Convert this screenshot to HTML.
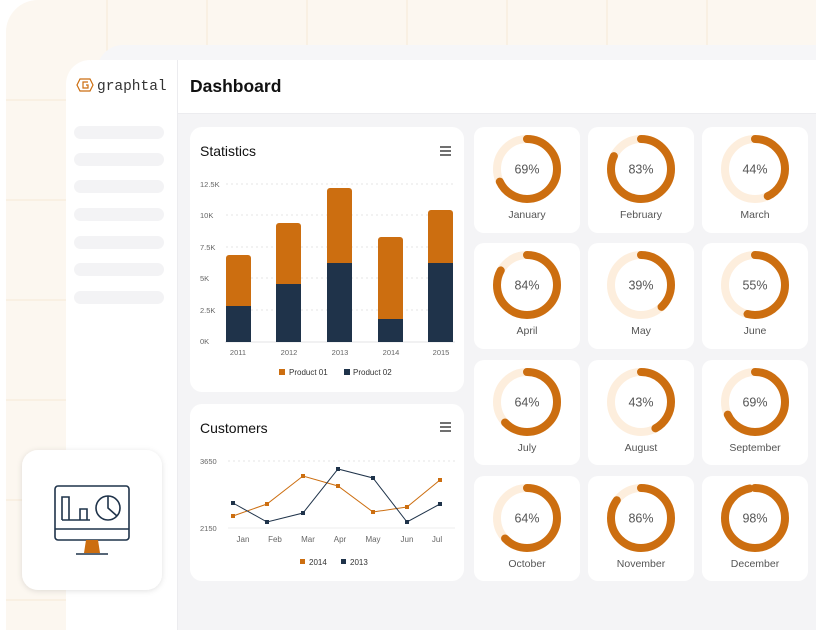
<!DOCTYPE html>
<html><head><meta charset="utf-8"><style>
html,body{margin:0;padding:0;width:816px;height:630px;overflow:hidden;background:#fff;}
svg{display:block;}
svg text{font-family:"Liberation Sans",sans-serif;}
</style></head><body>
<svg width="816" height="630" viewBox="0 0 816 630" xmlns="http://www.w3.org/2000/svg">
<defs>
<filter id="sh" x="-20%" y="-20%" width="140%" height="140%"><feDropShadow dx="0" dy="1" stdDeviation="3" flood-color="#000" flood-opacity="0.12"/></filter>
<clipPath id="cp"><rect x="0" y="0" width="816" height="630"/></clipPath>
</defs>
<g clip-path="url(#cp)">
<rect x="6" y="0" width="840" height="660" rx="32" fill="#fcf7f0"/>
<g stroke="#f6e9d6" stroke-width="1">
<line x1="107" y1="0" x2="107" y2="630"/><line x1="207" y1="0" x2="207" y2="630"/><line x1="307" y1="0" x2="307" y2="630"/><line x1="407" y1="0" x2="407" y2="630"/><line x1="507" y1="0" x2="507" y2="630"/><line x1="607" y1="0" x2="607" y2="630"/><line x1="707" y1="0" x2="707" y2="630"/>
<line x1="6" y1="100" x2="816" y2="100"/><line x1="6" y1="200" x2="816" y2="200"/><line x1="6" y1="300" x2="816" y2="300"/><line x1="6" y1="400" x2="816" y2="400"/><line x1="6" y1="500" x2="816" y2="500"/><line x1="6" y1="600" x2="816" y2="600"/>
</g>
<rect x="97" y="45" width="760" height="620" rx="26" fill="#f6f6f8"/>
<rect x="66" y="60" width="800" height="620" rx="24" fill="#fff"/>
<rect x="178" y="114" width="640" height="520" fill="#f4f4f6"/>
<line x1="177.5" y1="60" x2="177.5" y2="630" stroke="#ececef"/>
<line x1="178" y1="113.5" x2="816" y2="113.5" stroke="#ececef"/>
<g stroke="#cc6e10" fill="none" stroke-width="1.2">
<polygon points="77,85 80,79 90,79 93,85 90,91 80,91"/>
<path d="M88,82 H83 V88 H88 V85 H86"/>
</g>
<text x="97" y="90" font-size="14.5" fill="#333" style="font-family:'Liberation Mono',monospace">graphtal</text>
<text x="190" y="92" font-size="17.5" font-weight="bold" fill="#111">Dashboard</text>
<g fill="#f3f3f5">
<rect x="74" y="126" width="90" height="13" rx="6.5"/><rect x="74" y="153" width="90" height="13" rx="6.5"/><rect x="74" y="180" width="90" height="13" rx="6.5"/><rect x="74" y="208" width="90" height="13" rx="6.5"/><rect x="74" y="236" width="90" height="13" rx="6.5"/><rect x="74" y="263" width="90" height="13" rx="6.5"/><rect x="74" y="291" width="90" height="13" rx="6.5"/>
</g>
<rect x="190" y="127" width="274" height="265" rx="12" fill="#fff"/>
<text x="200" y="156" font-size="14" fill="#111">Statistics</text>
<g stroke="#333" stroke-width="1.4"><line x1="440" y1="147" x2="451" y2="147"/><line x1="440" y1="151" x2="451" y2="151"/><line x1="440" y1="155" x2="451" y2="155"/></g>
<g stroke="#e6e6e6" stroke-dasharray="2,3"><line x1="226" y1="184" x2="455" y2="184"/><line x1="226" y1="215" x2="455" y2="215"/><line x1="226" y1="247" x2="455" y2="247"/><line x1="226" y1="278" x2="455" y2="278"/><line x1="226" y1="310" x2="455" y2="310"/></g>
<line x1="225" y1="342" x2="455" y2="342" stroke="#e3e3e6"/>
<g font-size="7.5" fill="#666">
<text x="200" y="187">12.5K</text><text x="200" y="218">10K</text><text x="200" y="250">7.5K</text><text x="200" y="281">5K</text><text x="200" y="313">2.5K</text><text x="200" y="344">0K</text>
</g>
<g fill="#cc6e10">
<rect x="226" y="255" width="25" height="60" rx="3"/><rect x="276" y="223" width="25" height="70" rx="3"/><rect x="327" y="188" width="25" height="85" rx="3"/><rect x="378" y="237" width="25" height="90" rx="3"/><rect x="428" y="210" width="25" height="60" rx="3"/>
</g>
<g fill="#1f334a">
<rect x="226" y="306" width="25" height="36"/><rect x="276" y="284" width="25" height="58"/><rect x="327" y="263" width="25" height="79"/><rect x="378" y="319" width="25" height="23"/><rect x="428" y="263" width="25" height="79"/>
</g>
<g font-size="7.5" fill="#666" text-anchor="middle">
<text x="238" y="355">2011</text><text x="289" y="355">2012</text><text x="340" y="355">2013</text><text x="391" y="355">2014</text><text x="441" y="355">2015</text>
</g>
<rect x="279" y="369" width="6" height="6" fill="#cc6e10"/><text x="289" y="375" font-size="8" fill="#333">Product 01</text>
<rect x="344" y="369" width="6" height="6" fill="#1f334a"/><text x="353" y="375" font-size="8" fill="#333">Product 02</text>
<rect x="190" y="404" width="274" height="177" rx="12" fill="#fff"/>
<text x="200" y="433" font-size="14" fill="#111">Customers</text>
<g stroke="#333" stroke-width="1.4"><line x1="440" y1="423" x2="451" y2="423"/><line x1="440" y1="427" x2="451" y2="427"/><line x1="440" y1="431" x2="451" y2="431"/></g>
<line x1="228" y1="461" x2="455" y2="461" stroke="#e6e6e6" stroke-dasharray="2,3"/>
<line x1="228" y1="528" x2="455" y2="528" stroke="#ececee"/>
<g font-size="7.5" fill="#666"><text x="200" y="464">3650</text><text x="200" y="531">2150</text></g>
<g font-size="8" fill="#666" text-anchor="middle">
<text x="243" y="542">Jan</text><text x="275" y="542">Feb</text><text x="308" y="542">Mar</text><text x="340" y="542">Apr</text><text x="373" y="542">May</text><text x="407" y="542">Jun</text><text x="437" y="542">Jul</text>
</g>
<polyline points="233,516 267,504 303,476 338,486 373,512 407,507 440,480" fill="none" stroke="#cc6e10" stroke-width="1"/>
<polyline points="233,503 267,522 303,513 338,469 373,478 407,522 440,504" fill="none" stroke="#1f334a" stroke-width="1"/>
<g fill="#cc6e10"><rect x="231" y="514" width="4" height="4"/><rect x="265" y="502" width="4" height="4"/><rect x="301" y="474" width="4" height="4"/><rect x="336" y="484" width="4" height="4"/><rect x="371" y="510" width="4" height="4"/><rect x="405" y="505" width="4" height="4"/><rect x="438" y="478" width="4" height="4"/></g>
<g fill="#1f334a"><rect x="231" y="501" width="4" height="4"/><rect x="265" y="520" width="4" height="4"/><rect x="301" y="511" width="4" height="4"/><rect x="336" y="467" width="4" height="4"/><rect x="371" y="476" width="4" height="4"/><rect x="405" y="520" width="4" height="4"/><rect x="438" y="502" width="4" height="4"/></g>
<rect x="300" y="559" width="5" height="5" fill="#cc6e10"/><text x="309" y="565" font-size="8" fill="#333">2014</text>
<rect x="341" y="559" width="5" height="5" fill="#1f334a"/><text x="350" y="565" font-size="8" fill="#333">2013</text>
<g id="donuts" font-size="12.5" text-anchor="middle"></g>
<rect x="22" y="450" width="140" height="140" rx="16" fill="#fff" filter="url(#sh)"/>
<g fill="none" stroke="#1f334a" stroke-width="1.6">
<rect x="55" y="486" width="74" height="54" rx="3"/>
<line x1="55" y1="529" x2="129" y2="529"/>
<polyline points="62,520 62,497 69,497 69,520"/><polyline points="80,520 80,509 87,509 87,520"/><line x1="62" y1="520" x2="90" y2="520"/>
<circle cx="108" cy="508" r="12"/><polyline points="108,496 108,508 117,516"/>
<line x1="76" y1="554" x2="108" y2="554"/>
</g>
<polygon points="86,540 98,540 100,553 84,553" fill="#cc6e10"/>
</g>
</svg>
<script>
var d=[["69%","January",.69],["83%","February",.83],["44%","March",.44],["84%","April",.84],["39%","May",.39],["55%","June",.55],["64%","July",.64],["43%","August",.43],["69%","September",.69],["64%","October",.64],["86%","November",.86],["98%","December",.98]];
var xs=[474,588,702],ys=[127,243,360,476],hs=[106,106,105,105],C=2*Math.PI*30,s="";
d.forEach(function(e,i){var x=xs[i%3],y=ys[Math.floor(i/3)],cx=x+53,cy=y+42;
s+='<rect x="'+x+'" y="'+y+'" width="106" height="'+hs[Math.floor(i/3)]+'" rx="10" fill="#fff"/>';
s+='<circle cx="'+cx+'" cy="'+cy+'" r="30" fill="none" stroke="#fdeedd" stroke-width="8"/>';
s+='<circle cx="'+cx+'" cy="'+cy+'" r="30" fill="none" stroke="#cc6e10" stroke-width="8" stroke-linecap="round" stroke-dasharray="'+(C*e[2]-2)+' '+C+'" transform="rotate(-90 '+cx+' '+cy+')"/>';
s+='<text x="'+cx+'" y="'+(cy+4.5)+'" fill="#555">'+e[0]+'</text>';
s+='<text x="'+cx+'" y="'+(y+91)+'" font-size="10.5" fill="#555">'+e[1]+'</text>';});
document.getElementById("donuts").innerHTML=s;
</script>
</body></html>
